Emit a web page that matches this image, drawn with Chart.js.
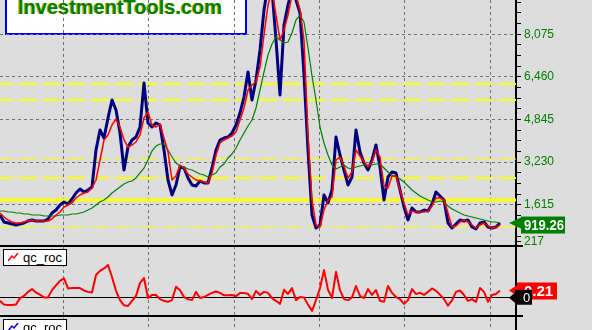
<!DOCTYPE html>
<html>
<head>
    <title>InvestmentTools.com - price, averages and qc_roc</title>
    <script src="https://cdn.jsdelivr.net/npm/chart.js"></script>
    <style>
        body {
            margin: 0;
            background: #dddddd;
        }
        #wrap {
            position: relative;
            width: 592px;
            height: 330px;
            background: #dddddd;
            overflow: hidden;
            font-family: "Liberation Sans", Arial, sans-serif;
        }
        #chart {
            position: absolute;
            left: 0;
            top: 0;
        }
        .brand {
            position: absolute;
            left: 5px;
            top: -10px;
            width: 242px;
            height: 45px;
            box-sizing: border-box;
            border: 2px solid #0000ff;
            background: #ffffff;
        }
        .brand span {
            position: absolute;
            left: 11px;
            top: 5px;
            font: bold 20px/20px "Liberation Sans", Arial, sans-serif;
            color: #008000;
            text-shadow: -1px 0 0 #b4b400;
            white-space: nowrap;
        }
        .pane-label {
            position: absolute;
            left: 3px;
            width: 64px;
            height: 17px;
            box-sizing: border-box;
            border: 1px solid #000000;
            background: #ffffff;
            font: 13px/15px "Liberation Sans", Arial, sans-serif;
            color: #000000;
        }
        .pane-label svg {
            position: absolute;
            left: 4px;
            top: 3px;
        }
        .pane-label span {
            position: absolute;
            left: 19px;
            top: 0;
        }
    </style>
</head>
<body>
    <div id="wrap">
        <div class="brand"><span>InvestmentTools.com</span></div>
        <canvas id="chart" width="592" height="330"></canvas>
        <div class="pane-label" style="top:249px">
            <svg width="11" height="10"><polyline points="0,8 4,3 6,5 10,0" fill="none" stroke="#ff0000" stroke-width="1.5"/></svg>
            <span>qc_roc</span>
        </div>
        <div class="pane-label" style="top:319px">
            <svg width="11" height="10"><polyline points="0,8 4,3 6,5 10,0" fill="none" stroke="#0000ff" stroke-width="1.5"/></svg>
            <span>qc_roc</span>
        </div>
    </div>

    <script>
        // Closing prices, one value per bar
        const closes = [
            1224, 959, 921, 883, 845, 883, 921, 997, 1035, 997,
            997, 997, 1073, 1300, 1414, 1603, 1717, 1641, 1831, 2058,
            2210, 2096, 2172, 2286, 3688, 4447, 4143, 4902, 5584, 5205,
            4333, 2930, 3802, 4068, 4181, 4560, 6228, 4712, 4560, 4712,
            4636, 3688, 2551, 1983, 2362, 3044, 3006, 2627, 2362, 2324,
            2513, 2437, 2437, 3006, 3688, 4068, 4143, 4181, 4333, 4636,
            5091, 5698, 6645, 5584, 6342, 7479, 8996, 9944, 9754, 7859,
            5774, 8427, 9185, 9754, 9375, 8882, 6532, 3688, 1224, 732,
            845, 1983, 1679, 2172, 4181, 3499, 2930, 2362, 2665, 4447,
            3613, 3196, 2930, 3309, 3878, 3044, 1793, 2665, 2854, 2817,
            2172, 1528, 1035, 1490, 1338, 1338, 1414, 1376, 1641, 2096,
            1945, 1793, 921, 732, 883, 1035, 997, 1035, 769, 694,
            921, 959, 769, 732, 769, 919.26
        ];

        // Short moving average (red)
        const fastAverage = [
            1300, 1149, 1035, 959, 921, 921, 959, 997, 1035, 997,
            997, 997, 997, 1073, 1224, 1338, 1528, 1603, 1679, 1869,
            1983, 2058, 2096, 2248, 2551, 3309, 4068, 4257, 4636, 4864,
            4560, 4068, 3802, 3878, 3992, 4257, 4902, 5129, 4636, 4560,
            4674, 4143, 3613, 2551, 2703, 3120, 3006, 2779, 2665, 2551,
            2513, 2475, 2437, 2817, 3499, 3954, 4068, 4143, 4219, 4371,
            4826, 5281, 5963, 6153, 6266, 6835, 8048, 9185, 9754, 8806,
            7859, 8238, 8806, 9565, 9565, 8996, 7859, 4257, 1793, 845,
            769, 1414, 1793, 1907, 3309, 3423, 3082, 2627, 2854, 3688,
            3461, 3234, 3044, 3234, 3688, 3423, 2324, 2248, 2703, 2703,
            2172, 1679, 1224, 1376, 1338, 1338, 1338, 1376, 1566, 1869,
            1869, 1793, 1300, 769, 807, 959, 1035, 959, 845, 732,
            845, 921, 807, 732, 769, 845
        ];

        // Long moving average (green)
        const slowAverage = [
            1376, 1376, 1338, 1338, 1300, 1300, 1262, 1262, 1224, 1224,
            1224, 1186, 1186, 1186, 1186, 1224, 1224, 1224, 1262, 1262,
            1300, 1338, 1414, 1490, 1603, 1717, 1793, 1907, 2058, 2172,
            2286, 2400, 2475, 2513, 2627, 2817, 3006, 3309, 3651, 3840,
            3916, 3916, 3688, 3423, 3196, 3082, 3044, 2968, 2930, 2854,
            2779, 2741, 2665, 2741, 2817, 3044, 3158, 3385, 3537, 3764,
            4068, 4333, 4598, 4826, 5281, 5963, 6645, 7290, 7707, 7972,
            7859, 7745, 7783, 8124, 8617, 8806, 8541, 7555, 6494, 5584,
            4560, 3954, 3499, 3120, 2968, 3044, 3120, 3006, 2968, 3044,
            3082, 3120, 3120, 3120, 3158, 3158, 3006, 2854, 2741, 2665,
            2589, 2475, 2324, 2172, 2058, 1945, 1869, 1793, 1717, 1717,
            1755, 1717, 1566, 1452, 1376, 1300, 1224, 1186, 1149, 1111,
            1073, 1035, 997, 959, 959, 921
        ];

        // qc_roc indicator
        const rocValues = [
            -0.09, -0.20, -0.21, -0.21, -0.20, -0.01, 0.05, 0.17, 0.25, 0.15,
            0.09, 0.01, 0.01, 0.22, 0.36, 0.49, 0.56, 0.27, 0.28, 0.28,
            0.28, 0.21, 0.17, 0.15, 0.66, 0.78, 0.85, 0.95, 0.60, 0.20,
            -0.07, -0.22, -0.24, -0.09, 0.05, 0.43, 0.57, -0.01, 0.08, 0.08,
            -0.04, -0.09, -0.12, -0.07, 0.32, 0.22, 0.02, -0.04, -0.07, 0.17,
            -0.01, 0.02, 0.08, 0.14, 0.18, 0.14, 0.07, 0.07, 0.08, 0.04,
            0.14, 0.14, 0.11, -0.04, 0.20, 0.08, 0.17, 0.14, -0.01, -0.09,
            -0.18, 0.23, 0.11, 0.28, -0.07, 0.02, 0.01, -0.20, -0.38, -0.07,
            0.28, 0.80, 0.23, -0.01, 0.75, 0.22, -0.04, -0.07, 0.01, 0.34,
            0.05, -0.01, 0.25, 0.08, 0.22, -0.09, -0.12, 0.34, 0.14, 0.02,
            -0.04, -0.18, -0.07, 0.25, 0.11, 0.14, 0.08, 0.17, 0.27, 0.20,
            0.09, -0.04, -0.23, -0.08, 0.17, 0.21, 0.08, -0.09, -0.04, -0.12,
            0.28, 0.17, -0.12, 0.08, 0.11, 0.21
        ];

        // Horizontal support / resistance levels (yellow)
        const levelValues = [6191, 5584, 3347, 2627, 1793, 769];
        const levelStyles = [
            { width: 2, dash: [18, 6] },
            { width: 2, dash: [18, 6] },
            { width: 1, dash: [18, 6] },
            { width: 2, dash: [18, 6] },
            { width: 3, dash: [] },
            { width: 1, dash: [18, 6] }
        ];

        // Axis ticks
        const priceLabelTicks = [217, 1615, 3230, 4845, 6460, 8075];
        const minorTickStep = 403.75;
        const periodTicks = [15.75, 37.1, 58.5, 79.9, 101.2, 122.5];
        const lastBar = 129;

        const toPoints = arr => arr.map((v, i) => ({ x: i, y: v }));

        function drawTag(ctx, left, top, width, height, color, tipX, tipY, text, textX, font) {
            ctx.fillStyle = color;
            ctx.beginPath();
            ctx.moveTo(tipX, tipY);
            ctx.lineTo(left + 1, tipY - 6);
            ctx.lineTo(left + 1, tipY + 6);
            ctx.closePath();
            ctx.fill();
            ctx.fillRect(left, top, width, height);
            ctx.fillStyle = '#ffffff';
            ctx.font = font;
            ctx.textAlign = 'left';
            ctx.textBaseline = 'middle';
            ctx.fillText(text, textX, top + height / 2 + 1, left + width - textX - 1);
        }

        // separators between panes and the last-value tags on the axis
        const paneDecor = {
            id: 'paneDecor',
            afterDraw(chart) {
                const ctx = chart.ctx;
                const price = chart.scales.y;
                const roc = chart.scales.roc;
                const axisX = price.left;
                ctx.save();
                ctx.strokeStyle = '#000000';
                ctx.lineWidth = 2;
                [roc.top, roc.bottom].forEach(py => {
                    ctx.beginPath();
                    ctx.moveTo(chart.chartArea.left, py);
                    ctx.lineTo(axisX + 7, py);
                    ctx.stroke();
                });

                const lastClose = closes[closes.length - 1];
                const py = price.getPixelForValue(lastClose);
                drawTag(ctx, axisX + 5, py - 6.5, 44, 17, '#008000', axisX - 7, py,
                    lastClose.toFixed(2), axisX + 8, 'bold 15px "Liberation Sans", Arial');

                const lastRoc = rocValues[rocValues.length - 1];
                const ry = roc.getPixelForValue(lastRoc);
                drawTag(ctx, axisX + 1, ry - 8, 40, 17, '#ff0000', axisX - 7, ry,
                    lastRoc.toFixed(2), axisX + 8, 'bold 15px "Liberation Sans", Arial');

                const zy = roc.getPixelForValue(0);
                drawTag(ctx, axisX - 1, zy - 8, 17, 15, '#000000', axisX - 7, zy,
                    '0', axisX + 7, '13px "Liberation Sans", Arial');
                ctx.restore();
            }
        };

        const lineBase = { pointRadius: 0, tension: 0, fill: false, borderJoinStyle: 'round' };

        const levelSets = levelValues.map((v, i) => Object.assign({}, lineBase, {
            label: 'level ' + v,
            data: [{ x: 0, y: v }, { x: lastBar, y: v }],
            borderColor: '#ffff00',
            borderWidth: levelStyles[i].width,
            borderDash: levelStyles[i].dash,
            borderDashOffset: 5,
            yAxisID: 'y'
        }));

        const noPadding = s => {
            s.paddingTop = 0;
            s.paddingBottom = 0;
            s.paddingLeft = 0;
            s.paddingRight = 0;
        };

        const ctx = document.getElementById('chart').getContext('2d');
        const chart = new Chart(ctx, {
            type: 'line',
            data: {
                datasets: [
                    Object.assign({}, lineBase, { label: 'fast average', data: toPoints(fastAverage), borderColor: '#ff0000', borderWidth: 1.5, yAxisID: 'y' }),
                    Object.assign({}, lineBase, { label: 'slow average', data: toPoints(slowAverage), borderColor: '#008000', borderWidth: 1.2, yAxisID: 'y' }),
                    Object.assign({}, lineBase, { label: 'close', data: toPoints(closes), borderColor: '#000080', borderWidth: 3, yAxisID: 'y' }),
                    Object.assign({}, lineBase, { label: 'qc_roc', data: toPoints(rocValues), borderColor: '#ff0000', borderWidth: 2, yAxisID: 'roc' })
                ].concat(levelSets)
            },
            options: {
                responsive: false,
                animation: false,
                events: [],
                layout: { padding: 0 },
                plugins: {
                    legend: { display: false },
                    tooltip: { enabled: false }
                },
                scales: {
                    x: {
                        type: 'linear',
                        position: 'bottom',
                        min: 0,
                        max: lastBar,
                        ticks: { display: false },
                        grid: { color: '#707070', drawTicks: false, lineWidth: 1 },
                        border: { display: false, dash: [3, 3] },
                        afterBuildTicks: s => { s.ticks = periodTicks.map(v => ({ value: v })); },
                        afterFit: s => { s.height = 0; noPadding(s); }
                    },
                    y: {
                        type: 'linear',
                        position: 'right',
                        stack: 'panes',
                        stackWeight: 246,
                        min: 49,
                        max: 9375,
                        afterBuildTicks: s => {
                            const minor = Array.from({ length: 23 }, (_, k) => (k + 1) * minorTickStep);
                            s.ticks = [priceLabelTicks[0]].concat(minor).map(v => ({ value: v }));
                        },
                        ticks: {
                            autoSkip: false,
                            padding: 3,
                            color: '#008000',
                            font: { family: '"Liberation Sans", Arial', size: 12 },
                            callback: v => priceLabelTicks.includes(v) ? v.toLocaleString('en-US') : ''
                        },
                        grid: {
                            color: c => (c.tick && c.tick.value !== priceLabelTicks[0] && priceLabelTicks.includes(c.tick.value)) ? '#707070' : 'rgba(0,0,0,0)',
                            tickColor: '#000000',
                            tickLength: 5,
                            lineWidth: 1
                        },
                        border: { color: '#000000', width: 2, dash: [3, 3] },
                        afterFit: s => { s.width = 76; noPadding(s); }
                    },
                    roc: {
                        type: 'linear',
                        position: 'right',
                        stack: 'panes',
                        stackWeight: 70,
                        min: -0.53,
                        max: 1.5,
                        afterBuildTicks: s => { s.ticks = [{ value: 0 }]; },
                        ticks: { display: false },
                        grid: { color: '#000000', tickColor: '#000000', tickLength: 5, lineWidth: 1 },
                        border: { color: '#000000', width: 2 },
                        afterFit: s => { s.width = 76; noPadding(s); }
                    },
                    lower: {
                        type: 'linear',
                        position: 'right',
                        stack: 'panes',
                        stackWeight: 14,
                        min: 0,
                        max: 1,
                        ticks: { display: false },
                        grid: { display: false },
                        border: { color: '#000000', width: 2 },
                        afterFit: s => { s.width = 76; noPadding(s); }
                    }
                }
            },
            plugins: [paneDecor]
        });
    </script>
</body>
</html>
